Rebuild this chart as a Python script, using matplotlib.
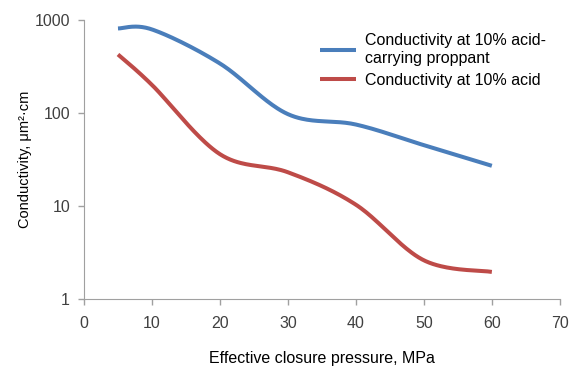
import numpy as np
import matplotlib
matplotlib.use("Agg")
import matplotlib.pyplot as plt

# values
pressure = [5, 10, 20, 30, 40, 50, 60]
cond_proppant = [810, 790, 340, 97, 75, 45, 27]
cond_acid = [425, 200, 36, 23, 10.3, 2.6, 1.95]

x_ticks = [0, 10, 20, 30, 40, 50, 60, 70]
y_ticks = [1, 10, 100, 1000]


def smooth(xs, ys, n=40):
    # Excel-style smoothed line: cubic bezier, control points at 1/6 of neighbour chord
    pts = np.column_stack([xs, np.log10(ys)])
    out = []
    for i in range(len(pts) - 1):
        p0 = pts[i - 1] if i > 0 else pts[i]
        p1, p2 = pts[i], pts[i + 1]
        p3 = pts[i + 2] if i + 2 < len(pts) else pts[i + 1]
        c1 = p1 + (p2 - p0) / 6
        c2 = p2 - (p3 - p1) / 6
        t = np.linspace(0, 1, n)[:, None]
        seg = ((1 - t) ** 3) * p1 + 3 * ((1 - t) ** 2) * t * c1 + 3 * (1 - t) * t ** 2 * c2 + t ** 3 * p2
        out.append(seg if i == 0 else seg[1:])
    out = np.vstack(out)
    return out[:, 0], 10 ** out[:, 1]


plt.rcParams['font.family'] = ['Liberation Sans', 'DejaVu Sans']

fig = plt.figure(figsize=(5.73, 3.69), dpi=100)
ax = fig.add_axes([0.1466, 0.19, 0.8304, 0.756])

bx, by = smooth(pressure, cond_proppant)
rx, ry = smooth(pressure, cond_acid)
ax.plot(bx, by, color='#4A7EBB', lw=2.9, solid_capstyle='butt',
        label='Conductivity at 10% acid-\ncarrying proppant')
ax.plot(rx, ry, color='#BE4B48', lw=2.9, solid_capstyle='butt',
        label='Conductivity at 10% acid')

ax.set_yscale('log')
ax.set_xlim(0, 70)
ax.set_ylim(1, 1000)
ax.set_xticks(x_ticks)
ax.set_yticks(y_ticks)
ax.set_yticklabels([str(v) for v in y_ticks])
ax.minorticks_off()

tick_font = ['Liberation Sans Narrow', 'Liberation Sans']
for lab in ax.get_xticklabels() + ax.get_yticklabels():
    lab.set_family(tick_font)
    lab.set_fontsize(11.5)
    lab.set_color('#404040')

ax.tick_params(direction='out', length=4, width=1, color='#A0A0A0')
ax.tick_params(axis='x', pad=8)
ax.tick_params(axis='y', pad=6)
for s in ['top', 'right']:
    ax.spines[s].set_visible(False)
for s in ['left', 'bottom']:
    ax.spines[s].set_color('#A0A0A0')

ax.set_xlabel('Effective closure pressure, MPa', fontsize=11.5, labelpad=15)
ax.set_ylabel('Conductivity, μm²·cm', fontsize=10.5, labelpad=2)

ax.legend(loc='upper left', bbox_to_anchor=(0.482, 0.975), borderaxespad=0,
          frameon=False, fontsize=11.5, handlelength=2.25, handletextpad=0.56,
          labelspacing=0.45)

fig.savefig('out.png', dpi=100)
